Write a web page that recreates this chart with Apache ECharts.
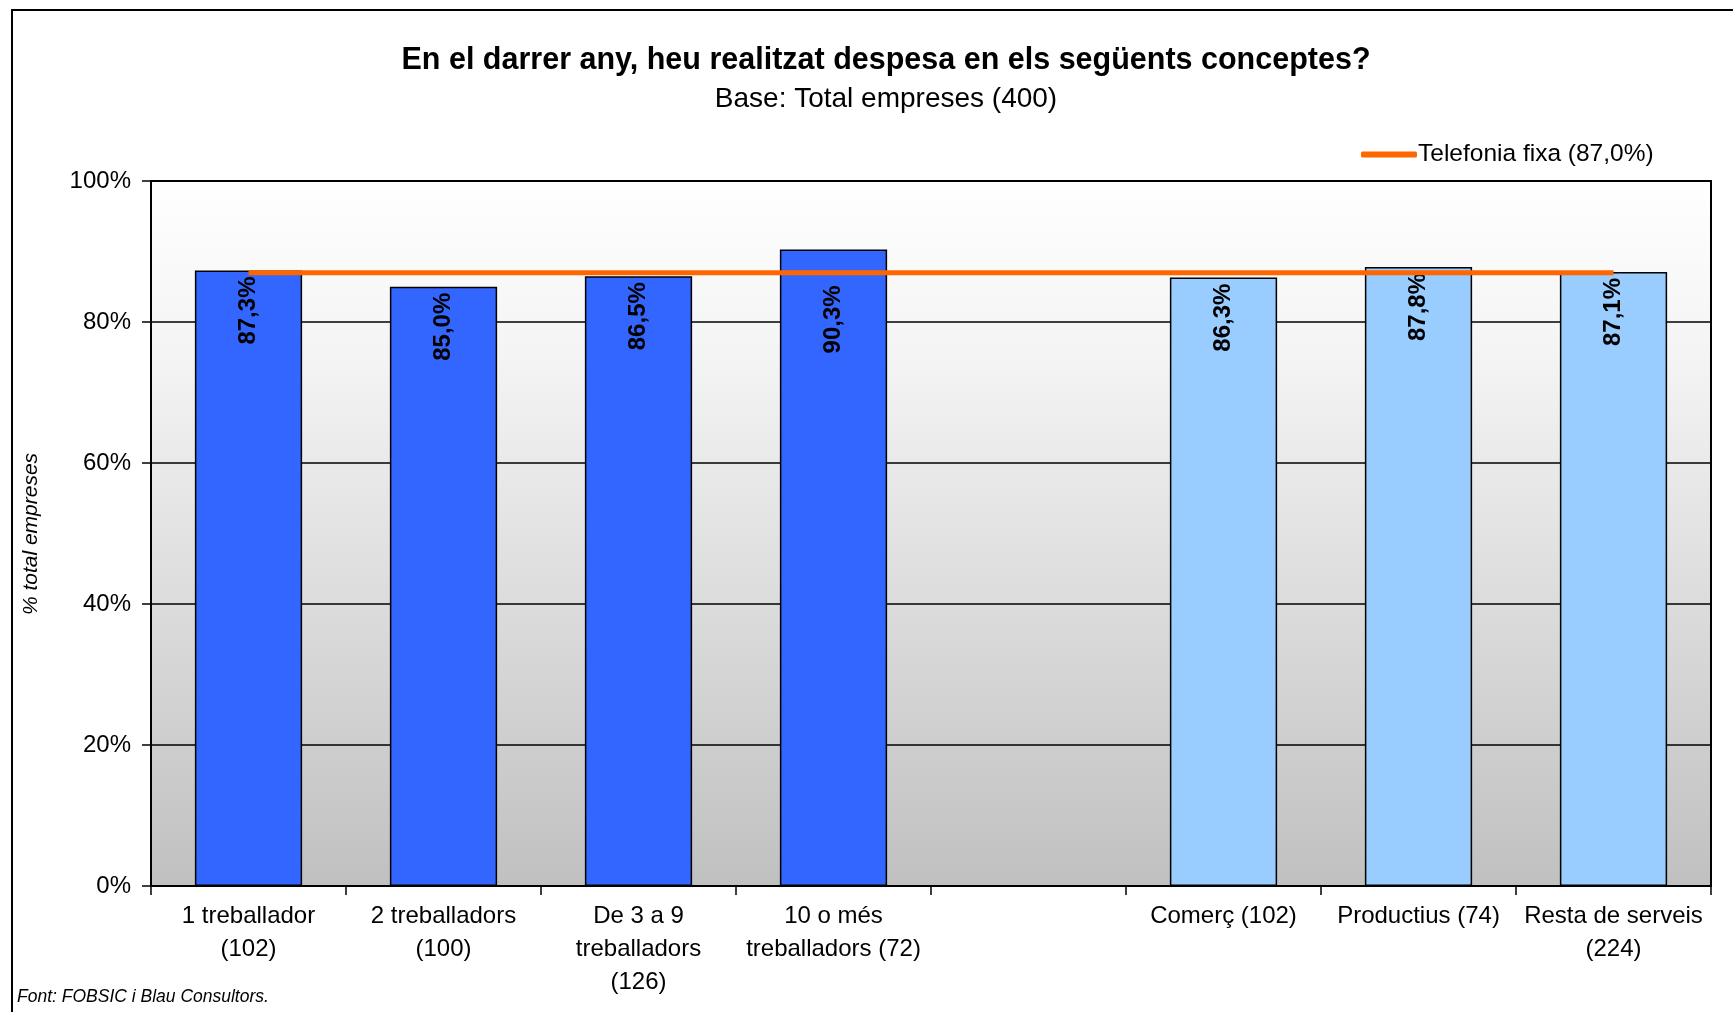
<!DOCTYPE html>
<html>
<head>
<meta charset="utf-8">
<script src="https://cdn.jsdelivr.net/npm/echarts@6/dist/echarts.min.js"></script>
<style>
html,body{margin:0;padding:0;background:#fff;}
#c{width:1733px;height:1012px;}
</style>
</head>
<body>
<div id="c"></div>
<script>
const categories = [
  "1 treballador\n(102)",
  "2 treballadors\n(100)",
  "De 3 a 9\ntreballadors\n(126)",
  "10 o més\ntreballadors (72)",
  "",
  "Comerç (102)",
  "Productius (74)",
  "Resta de serveis\n(224)"
];
const barValues = [87.3, 85.0, 86.5, 90.3, null, 86.3, 87.8, 87.1];
const barGroup = ["size", "size", "size", "size", "none", "sector", "sector", "sector"];
const lineValues = [87.0, 87.0, 87.0, 87.0, 87.0, 87.0, 87.0, 87.0];
const lineName = "Telefonia fixa (87,0%)";
const yTicks = [0, 20, 40, 60, 80, 100];
const titleText = "En el darrer any, heu realitzat despesa en els següents conceptes?";
const subtitleText = "Base: Total empreses (400)";
const yAxisName = "% total empreses";
const sourceText = "Font: FOBSIC i Blau Consultors.";

const groupColors = { size: "#3366FF", sector: "#99CCFF", none: "#FFFFFF" };
const FONT = "'Liberation Sans', Arial, sans-serif";

const chart = echarts.init(document.getElementById('c'), null, { renderer: 'canvas' });

chart.setOption({
  animation: false,
  backgroundColor: '#FFFFFF',
  textStyle: { fontFamily: FONT },
  title: [
    { text: titleText, left: 881, top: 40, textAlign: 'center',
      textStyle: { fontFamily: FONT, fontSize: 30.5, fontWeight: 'bold', color: '#000' } },
    { text: subtitleText, left: 881, top: 80, textAlign: 'center',
      textStyle: { fontFamily: FONT, fontSize: 28, fontWeight: 'normal', color: '#000' } }
  ],
  legend: {
    data: [{ name: lineName, icon: 'roundRect' }],
    left: 1356, top: 137,
    itemWidth: 56, itemHeight: 6, itemGap: 0,
    textStyle: { fontFamily: FONT, fontSize: 24.5, color: '#000', padding: [0, 0, 0, -4] }
  },
  graphic: [
    { type: 'rect', shape: { x: 12, y: 10, width: 1760, height: 1050 },
      style: { fill: 'none', stroke: '#000', lineWidth: 2 }, z: 100, silent: true },
    { type: 'text', left: 17, top: 988,
      style: { text: sourceText, font: "italic 17.5px 'Liberation Sans', Arial, sans-serif", fill: '#000' } },
    { type: 'text', rotation: Math.PI / 2, x: 21, y: 534,
      style: { text: yAxisName, font: "italic 21px 'Liberation Sans', Arial, sans-serif", fill: '#000',
               textAlign: 'center', textVerticalAlign: 'top' } }
  ],
  grid: {
    left: 151, top: 181, right: 22, bottom: 126,
    show: true, borderColor: '#000', borderWidth: 2,
    backgroundColor: new echarts.graphic.LinearGradient(0, 0, 0, 1, [
      { offset: 0, color: '#FFFFFF' },
      { offset: 0.25, color: '#F4F4F4' },
      { offset: 1, color: '#C0C0C0' }
    ])
  },
  xAxis: {
    type: 'category',
    data: categories,
    boundaryGap: true,
    axisLine: { show: true, lineStyle: { color: '#000', width: 2 } },
    axisTick: { show: true, alignWithLabel: false, length: 9, inside: false, interval: 0,
                lineStyle: { color: '#000', width: 1.5 } },
    axisLabel: { interval: 0, margin: 14, color: '#000', fontFamily: FONT, fontSize: 24,
                 lineHeight: 33, align: 'center' },
    splitLine: { show: false }
  },
  yAxis: {
    type: 'value',
    min: 0, max: 100, interval: 20,
    axisLine: { show: true, lineStyle: { color: '#000', width: 2 } },
    axisTick: { show: true, length: 9, lineStyle: { color: '#000', width: 1.5 } },
    axisLabel: { margin: 20, color: '#000', fontFamily: FONT, fontSize: 24,
                 formatter: v => yTicks.includes(v) ? v + '%' : '' },
    splitLine: { show: true, lineStyle: { color: '#000', width: 1.5 } }
  },
  series: [
    {
      type: 'bar',
      name: 'bars',
      barWidth: '55%',
      data: barValues.map((v, i) => ({
        value: v,
        itemStyle: { color: groupColors[barGroup[i]], borderColor: '#000', borderWidth: 1.5 },
        label: { distance: (v != null && v > 90) ? 36 : 6 }
      })),
      label: {
        show: true,
        position: 'insideTop',
        distance: 6,
        rotate: 90,
        align: 'right',
        verticalAlign: 'middle',
        color: '#000',
        fontFamily: FONT,
        fontWeight: 'bold',
        fontSize: 24,
        formatter: p => p.value == null ? '' : p.value.toFixed(1).replace('.', ',') + '%'
      },
      z: 2
    },
    {
      type: 'line',
      name: lineName,
      data: lineValues,
      showSymbol: false,
      symbol: 'none',
      lineStyle: { color: '#FF6600', width: 5 },
      itemStyle: { color: '#FF6600' },
      z: 3
    }
  ]
});
</script>
</body>
</html>
